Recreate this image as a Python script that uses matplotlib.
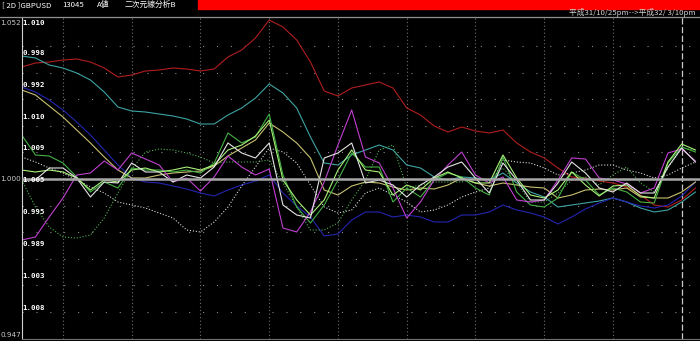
import matplotlib.pyplot as plt
import numpy as np

plt.rcParams['font.family'] = ['Noto Sans CJK JP', 'DejaVu Sans']

# 50 bars (half-day steps); values are deviation from the 1.000 base line (screen units)
bars = np.arange(50)

red = [112, 116, 117, 119, 120, 117, 111, 102, 104, 108, 109, 111, 110, 108, 110, 122, 129, 141, 159, 152,
       139, 117, 88, 83, 91, 94, 97, 91, 71, 64, 53, 47, 52, 48, 46, 49, 36, 27, 21, 11,
       2, 1, -2, -4, -8, -16, -26, -28, -21, -9]
teal = [123, 121, 114, 111, 106, 99, 87, 72, 68, 67, 65, 63, 60, 55, 55, 64, 71, 81, 95, 86,
        71, 42, 16, 14, 24, 29, 34, 29, 14, 11, 2, -1, 2, 1, -1, 6, -4, -13, -18, -28,
        -26, -24, -22, -19, -23, -29, -33, -31, -23, -13]
blue = [92, 87, 79, 69, 57, 44, 29, 14, 1, -3, -4, -7, -10, -14, -17, -11, -6, -2, 4, -14,
        -27, -38, -57, -55, -41, -33, -33, -38, -36, -38, -43, -43, -36, -36, -33, -26, -31, -34, -38, -45,
        -38, -30, -24, -19, -23, -27, -29, -26, -17, -3]
khaki = [89, 84, 73, 62, 49, 36, 22, 9, 1, 1, 4, 6, 7, 8, 13, 23, 31, 39, 56, 47,
         36, 21, -11, -16, -7, -3, -4, -8, -11, -9, -10, -6, 1, -4, -7, -4, -6, -8, -9, -19,
         -16, -11, -10, -11, -9, -18, -19, -19, -13, -3]
green = [44, 24, 23, 16, 2, -13, -3, -9, 11, 9, 9, 7, 9, 6, 16, 46, 36, 42, 65, 4,
         -28, -44, -26, -1, 26, 12, 12, -23, -9, -18, -1, 6, 2, -9, -16, 22, -13, -26, -28, -19,
         7, -1, -16, -9, -13, -23, -24, 16, 32, 27]
lightgreen = [9, 7, 9, 7, 1, -11, -1, -3, 9, 11, 7, 9, 12, 9, 14, 29, 34, 43, 59, -1,
              -21, -36, -21, 9, 29, 9, 7, -16, -6, -11, 1, 7, 1, -4, -4, 24, 1, -16, -19, -11,
              7, -6, -17, -7, -6, -17, -19, 17, 35, 29]
white = [-1, -1, 11, 11, 1, -18, -3, -4, 16, 7, 7, -3, 4, 1, 12, 36, 26, 21, 36, -26,
         -36, -39, 21, 26, 36, -4, -1, -6, -18, -6, 2, 12, 17, 1, -14, 16, -1, -21, -21, -4,
         17, 6, -9, -13, -4, -14, -14, 12, 31, 17]
magenta = [-61, -58, -38, -19, 4, 6, 18, 9, 26, 20, 14, -3, 1, -12, 2, 23, 12, 4, 10, -49,
           -53, -33, -3, 34, 69, 22, 16, -9, -39, -23, -1, 14, 27, 4, -4, 2, -21, -23, -21, -1,
           21, 20, 1, -1, -5, -14, -9, 26, 30, 18]
dot_white = [22, 17, 11, 6, -1, -8, -14, -23, -26, -29, -34, -39, -51, -53, -43, -28, -7, 12, 31, 27,
             16, -6, -28, -34, -31, -14, -9, -16, -23, -33, -31, -26, -18, -13, -9, 19, 17, 16, 11, 4,
             6, 9, 14, 14, 9, 6, 1, 4, 11, 17]
dot_green = [-1, -28, -48, -58, -59, -56, -39, -14, 10, 27, 30, 29, 26, 22, 16, 17, 17, 17, 19, -4,
             -28, -51, -51, -44, -21, -1, 29, 34, -9, -6, -3, -3, -3, 1, -1, 11, -4, -23, -23, -14,
             -1, 2, -6, 4, 12, -4, -13, 11, 31, 29]

inner_labels = ["1.010", "0.998", "0.992", "1.010", "1.009", "1.005", "0.995", "0.989", "1.003", "1.008"]
inner_label_px = [23, 53, 85, 117, 148, 180, 212, 244, 276, 308]
scale_labels = [("1.052", 23), ("1.000", 179), ("0.947", 335)]

W, H = 700, 341
fig = plt.figure(figsize=(7, 3.41), dpi=100, facecolor='black')
ax = fig.add_axes([21.5 / W, 2 / H, (W - 21.5) / W, (339 - 16.5) / H])
ax.set_facecolor('black')
ax.set_xlim(-0.015, 49.33)
ax.set_ylim(-160, 162.5)
ax.set_xticks([])
ax.set_yticks([])
for s in ['top', 'right']:
    ax.spines[s].set_visible(False)
ax.spines['left'].set_color('#d0d0d0')
ax.spines['bottom'].set_color('#707070')

# grid
step = 26.6
for i in range(1, 6):
    for lv in (i * step, -i * step):
        ax.axhline(lv, color='#8a8a8a', lw=0.8, ls=(0, (1, 11.5)), zorder=1)
for k in range(3, 44, 5):
    ax.axvline(k, color='#6e6e6e', lw=0.8, ls=(0, (1, 2.2)), zorder=1)
ax.axvline(48, color='#c8c8c8', lw=0.9, ls=(0, (5, 2)), zorder=1)

series = [
    (red, '#b01e1e', '-'),
    (teal, '#3ea3a3', '-'),
    (blue, '#2424b0', '-'),
    (khaki, '#c8c070', '-'),
    (dot_white, '#d8d8d8', ':'),
    (dot_green, '#4fb04f', ':'),
    (green, '#44b044', '-'),
    (magenta, '#c040d0', '-'),
    (lightgreen, '#a8f078', '-'),
    (white, '#e4e4e4', '-'),
]
for vals, col, ls in series:
    ax.plot(bars, vals, color=col, lw=0.8, ls=ls, zorder=2)

ax.axhline(0, color='#a8a8a8', lw=1.8, zorder=4)

# header
fig.patches.append(plt.Rectangle((198 / W, 1 - 8.5 / H), 1 - 198 / W, 8.5 / H,
                                 transform=fig.transFigure, color='#ff0000', zorder=0))
fig.lines.append(plt.Line2D([0, 1], [1 - 16.5 / H] * 2, transform=fig.transFigure,
                            color='#909090', lw=0.9))
hdr = dict(color='white', fontsize=5.6, va='center')
fig.text(2 / W, 1 - 5 / H, "[ 2D ]GBPUSD", **hdr)
fig.text(62 / W, 1 - 5 / H, "13045", **hdr)
fig.text(97 / W, 1 - 5 / H, "A値", **hdr)
fig.text(125 / W, 1 - 5 / H, "二次元線分析B", **hdr)
fig.text(696 / W, 1 - 12.5 / H, "平成31/10/25pm-->平成32/ 3/10pm", color='#d0d0d0',
         fontsize=5.6, va='center', ha='right')

for txt, py in scale_labels:
    fig.text(0.5 / W, 1 - py / H, txt, color='#c8c8c8', fontsize=5.2,
             family='DejaVu Sans', va='center')
for txt, py in zip(inner_labels, inner_label_px):
    fig.text(22.5 / W, 1 - py / H, txt, color='white', fontsize=5.3, fontweight='bold',
             family='DejaVu Sans Mono', va='center')

fig.savefig('out.png', dpi=100, facecolor='black')
